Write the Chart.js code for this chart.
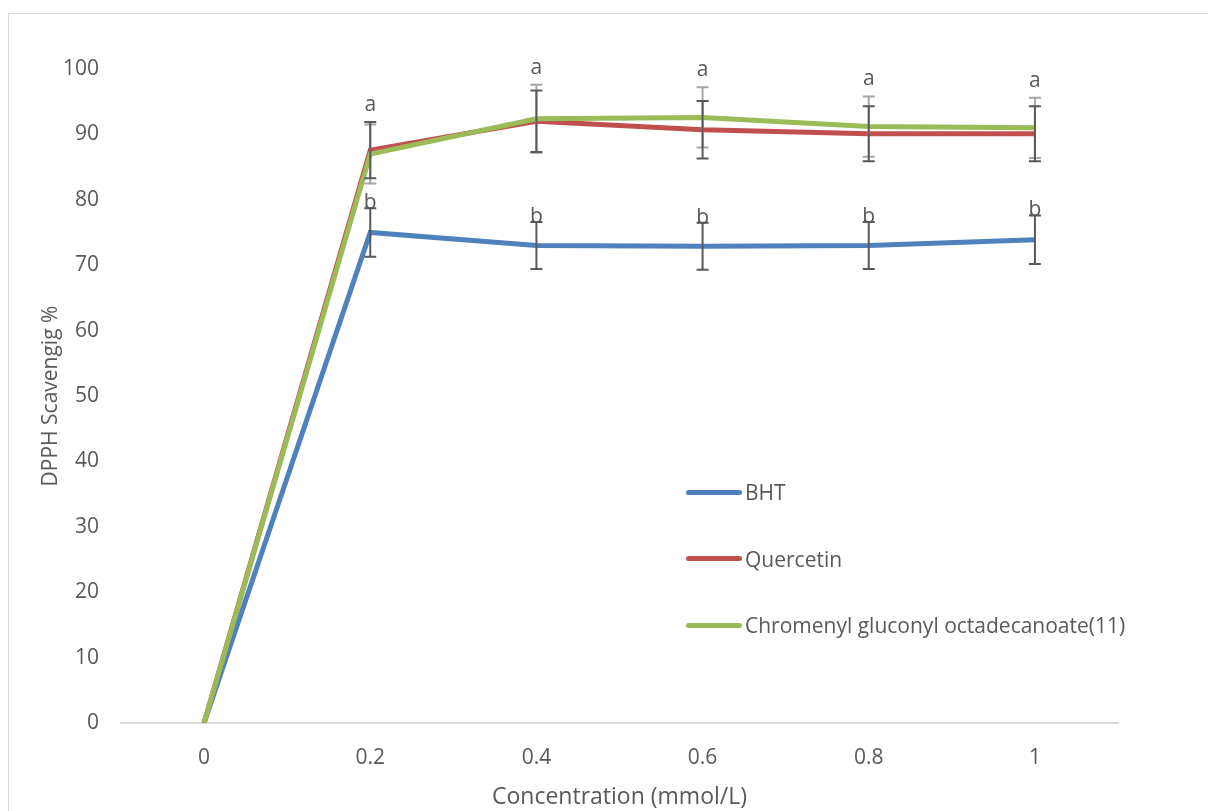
<!DOCTYPE html>
<html>
<head>
<meta charset="utf-8">
<script src="https://cdn.jsdelivr.net/npm/chart.js@4.4.1/dist/chart.umd.min.js"></script>
<style>
    html, body { margin: 0; padding: 0; background: #fff; }
    #wrap { position: relative; width: 1208px; height: 811px; overflow: hidden; }
    #frame {
        position: absolute; left: 8px; top: 13px; width: 1220px; height: 820px;
        border: 1px solid #d9d9d9; box-sizing: border-box;
    }
    canvas { position: absolute; left: 0; top: 0; }
    #legend { position: absolute; left: 686px; top: 478px; font-family: 'Open Sans', sans-serif; font-size: 21px; color: #595959; }
    #legend .item { display: flex; align-items: center; height: 28px; margin-bottom: 38.5px; }
    #legend .swatch { width: 56px; height: 5px; border-radius: 3px; margin-right: 3px; }
</style>
</head>
<body>
<div id="wrap">
    <div id="frame"></div>
    <canvas id="chart" width="1208" height="811"></canvas>
    <div id="legend"></div>
</div>
<script>
// ── Data ─────────────────────────────────────────────
const concentrations = ['0', '0.2', '0.4', '0.6', '0.8', '1'];

const bht       = [0, 75.0, 73.0, 72.9, 73.0, 73.9];
const quercetin = [0, 87.6, 92.0, 90.7, 90.1, 90.1];
const chromenyl = [0, 87.0, 92.4, 92.6, 91.2, 91.0];

const bhtErr       = [0, 3.7, 3.6, 3.6, 3.6, 3.7];
const quercetinErr = [0, 4.3, 4.7, 4.4, 4.2, 4.2];
const chromenylErr = [0, 4.5, 5.2, 4.6, 4.6, 4.6];

const upperLetters = ['', 'a', 'a', 'a', 'a', 'a'];
const lowerLetters = ['', 'b', 'b', 'b', 'b', 'b'];

const yTicks = [0, 10, 20, 30, 40, 50, 60, 70, 80, 90, 100];

// ── Theme ────────────────────────────────────────────
const font = "'Open Sans', sans-serif";
const textColor = '#595959';
const blue  = '#4f81bd';
const red   = '#c0504d';
const green = '#9bbb59';

// error bars + significance letters, drawn on top of the lines
const errorBarPlugin = {
    id: 'errorBars',
    afterDatasetsDraw(chart) {
        const { ctx, scales: { x, y } } = chart;
        const bars = [
            { values: bht, errs: bhtErr, color: '#595959' },
            { values: chromenyl, errs: chromenylErr, color: '#a6a6a6' },
            { values: quercetin, errs: quercetinErr, color: '#595959' },
        ];
        ctx.save();
        ctx.lineWidth = 2;
        bars.forEach(b => {
            ctx.strokeStyle = b.color;
            b.values.forEach((v, i) => {
                if (!b.errs[i]) return;
                const px = x.getPixelForValue(i);
                const top = y.getPixelForValue(v + b.errs[i]);
                const bot = y.getPixelForValue(v - b.errs[i]);
                ctx.beginPath();
                ctx.moveTo(px, top); ctx.lineTo(px, bot);
                ctx.moveTo(px - 6, top); ctx.lineTo(px + 6, top);
                ctx.moveTo(px - 6, bot); ctx.lineTo(px + 6, bot);
                ctx.stroke();
            });
        });

        ctx.fillStyle = textColor;
        ctx.font = `21px ${font}`;
        ctx.textAlign = 'center';
        ctx.textBaseline = 'middle';
        upperLetters.forEach((t, i) => {
            if (!t) return;
            const top = Math.max(quercetin[i] + quercetinErr[i], chromenyl[i] + chromenylErr[i]);
            ctx.fillText(t, x.getPixelForValue(i), y.getPixelForValue(top) - 17);
        });
        ctx.textBaseline = 'alphabetic';
        lowerLetters.forEach((t, i) => {
            if (!t) return;
            ctx.fillText(t, x.getPixelForValue(i), y.getPixelForValue(bht[i] + bhtErr[i]) + 1);
        });
        ctx.restore();
    }
};

const makeSet = (label, data, color, order) => ({
    label, data, order,
    borderColor: color,
    backgroundColor: color,
    borderWidth: 5,
    pointRadius: 0,
    tension: 0,
    fill: false,
});

const datasets = [
    makeSet('BHT', bht, blue, 3),
    makeSet('Quercetin', quercetin, red, 2),
    makeSet('Chromenyl gluconyl octadecanoate(11)', chromenyl, green, 1),
];

new Chart(document.getElementById('chart'), {
    type: 'line',
    data: { labels: concentrations, datasets },
    options: {
        responsive: false,
        animation: false,
        layout: { padding: { left: 38, top: 69, right: 90, bottom: 0 } },
        scales: {
            x: {
                offset: true,
                grid: { display: false, drawTicks: false },
                border: { color: '#d9d9d9', width: 2 },
                ticks: { color: textColor, font: { family: font, size: 21 }, padding: 22 },
                title: { display: true, text: 'Concentration (mmol/L)', color: textColor, font: { family: font, size: 23 }, padding: { top: 14, bottom: 0 } },
                afterFit: s => { s.height = 811 - 723; },
            },
            y: {
                min: 0, max: 100,
                afterBuildTicks: s => { s.ticks = yTicks.map(v => ({ value: v })); },
                grid: { display: false, drawTicks: false },
                border: { display: false },
                ticks: { color: textColor, font: { family: font, size: 21 }, padding: 22 },
                title: { display: true, text: 'DPPH Scavengig %', color: textColor, font: { family: font, size: 21 }, padding: { top: 0, bottom: 8 } },
                afterFit: s => { s.width = 121 - 38; },
            }
        },
        plugins: { legend: { display: false }, tooltip: { enabled: false } },
    },
    plugins: [errorBarPlugin],
});

// legend
const legend = document.getElementById('legend');
datasets.forEach(d => {
    const item = document.createElement('div');
    item.className = 'item';
    item.innerHTML = `<span class="swatch" style="background:${d.borderColor}"></span><span>${d.label}</span>`;
    legend.appendChild(item);
});
</script>
</body>
</html>
